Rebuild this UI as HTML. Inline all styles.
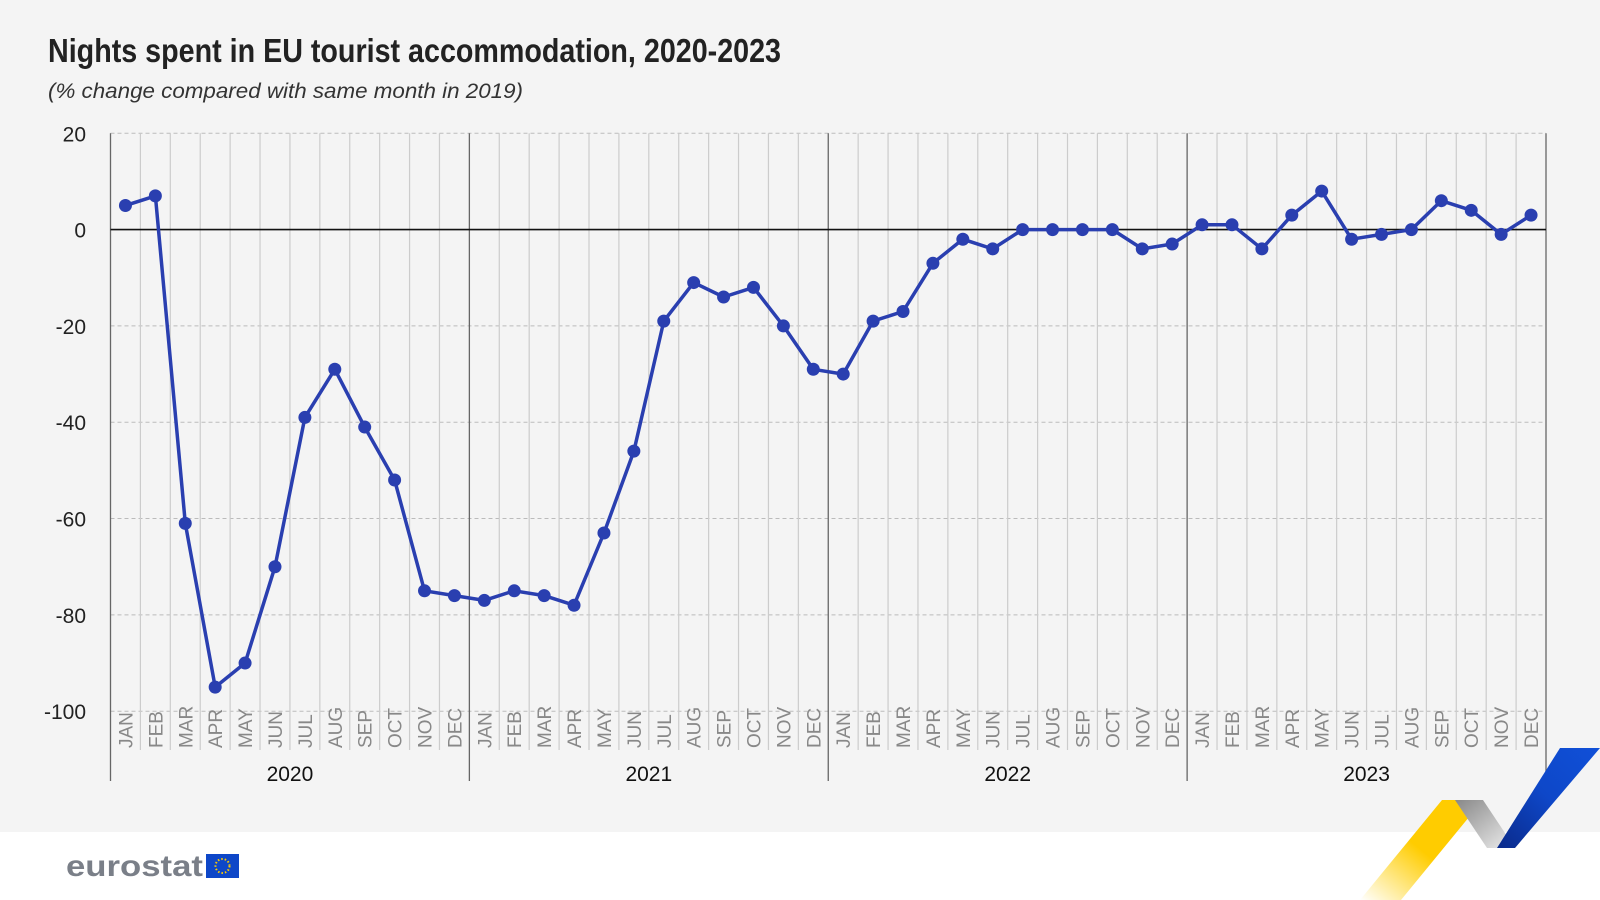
<!DOCTYPE html>
<html><head><meta charset="utf-8"><style>
html,body{margin:0;padding:0;width:1600px;height:900px;overflow:hidden;background:#fff}
svg{display:block}
</style></head><body>
<svg id="s" width="1600" height="900" viewBox="0 0 1600 900" xmlns="http://www.w3.org/2000/svg">
<defs>
<linearGradient id="gy" x1="0" y1="1" x2="1" y2="0"><stop offset="0" stop-color="#ffd000" stop-opacity="0"/><stop offset="0.5" stop-color="#ffcc00"/><stop offset="1" stop-color="#ffcc00"/></linearGradient>
<linearGradient id="gg" x1="0" y1="0" x2="1" y2="1"><stop offset="0" stop-color="#888"/><stop offset="1" stop-color="#eee"/></linearGradient>
<linearGradient id="gb" x1="0" y1="1" x2="1" y2="0"><stop offset="0" stop-color="#0a2a8a"/><stop offset="0.5" stop-color="#0e47c8"/><stop offset="1" stop-color="#1050d8"/></linearGradient>
</defs>
<rect x="0" y="0" width="1600" height="832" fill="#f4f4f4"/>
<text x="48" y="62" font-family="'Liberation Sans Narrow','Liberation Sans',sans-serif" font-weight="bold" font-size="33" fill="#222" textLength="733" lengthAdjust="spacingAndGlyphs">Nights spent in EU tourist accommodation, 2020-2023</text>
<text x="48" y="98" font-family="'Liberation Sans',sans-serif" font-style="italic" font-size="21" fill="#333" textLength="475" lengthAdjust="spacingAndGlyphs">(% change compared with same month in 2019)</text>
<g id="g"></g>
<polygon points="1360,900 1442,800 1483,800 1401,900" fill="url(#gy)"/>
<polygon points="1455,800 1483,800 1515,848 1487,848" fill="url(#gg)"/>
<polygon points="1497,848 1560,748 1600,748 1515,848" fill="url(#gb)"/>
<text x="66" y="876" font-family="'Liberation Sans',sans-serif" font-weight="bold" font-size="30" fill="#7a7f88" textLength="137" lengthAdjust="spacingAndGlyphs">eurostat</text>
<rect x="206" y="854" width="33" height="24" fill="#0e47c8"/>
<circle cx="222.5" cy="866" r="7" fill="none" stroke="#ffcc00" stroke-width="2" stroke-dasharray="1.5 2"/>
</svg>
<script>
var d=[5,7,-61,-95,-90,-70,-39,-29,-41,-52,-75,-76,-77,-75,-76,-78,-63,-46,-19,-11,-14,-12,-20,-29,-30,-19,-17,-7,-2,-4,0,0,0,0,-4,-3,1,1,-4,3,8,-2,-1,0,6,4,-1,3];
var L=110.5,R=1546,W=(R-L)/48,y0=229.6,k=4.816;
function Y(v){return y0-v*k}
var m=["JAN","FEB","MAR","APR","MAY","JUN","JUL","AUG","SEP","OCT","NOV","DEC"];
var h='';
[20,-20,-40,-60,-80,-100].forEach(function(v){h+='<line x1="'+L+'" x2="'+R+'" y1="'+Y(v)+'" y2="'+Y(v)+'" stroke="#bbb" stroke-dasharray="4 3"/>';});
for(var i=0;i<=48;i++){var x=L+i*W,yr=i%12==0;
h+='<line x1="'+x+'" x2="'+x+'" y1="'+Y(20)+'" y2="'+(yr?781:750)+'" stroke="'+(yr?'#666':'#ccc')+'" stroke-width="'+(yr?1.3:1.2)+'"/>';}
h+='<line x1="'+L+'" x2="'+R+'" y1="'+y0+'" y2="'+y0+'" stroke="#111" stroke-width="1.6"/>';
[20,0,-20,-40,-60,-80,-100].forEach(function(v){h+='<text x="86" y="'+(Y(v)+8)+'" text-anchor="end" font-family="Liberation Sans Narrow,Liberation Sans,sans-serif" font-size="21" fill="#222">'+v+'</text>';});
for(var i=0;i<48;i++){var cx=L+(i+0.5)*W;
h+='<text transform="translate('+(cx+7)+',748) rotate(-90)" font-family="Liberation Sans Narrow,Liberation Sans,sans-serif" font-size="19" fill="#888">'+m[i%12]+'</text>';}
for(var yy=0;yy<4;yy++){h+='<text x="'+(L+(yy*12+6)*W)+'" y="781" text-anchor="middle" font-family="Liberation Sans Narrow,Liberation Sans,sans-serif" font-size="21" fill="#111">'+(2020+yy)+'</text>';}
var p=d.map(function(v,i){return (L+(i+0.5)*W).toFixed(1)+','+Y(v).toFixed(1)}).join(' ');
h+='<polyline points="'+p+'" fill="none" stroke="#2a3fb0" stroke-width="3.5" stroke-linejoin="round"/>';
d.forEach(function(v,i){h+='<circle cx="'+(L+(i+0.5)*W)+'" cy="'+Y(v)+'" r="6.5" fill="#2a3fb0"/>';});
document.getElementById('g').innerHTML=h;
</script>
</body></html>
